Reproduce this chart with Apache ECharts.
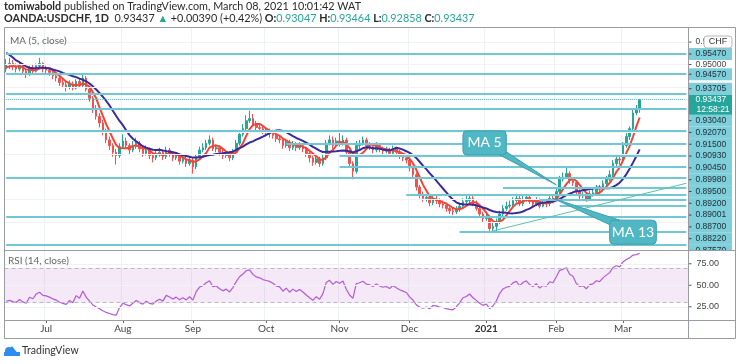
<!DOCTYPE html>
<html><head><meta charset="utf-8"><title>USDCHF 1D</title>
<script src="https://cdn.jsdelivr.net/npm/echarts@6/dist/echarts.min.js"></script>
<style>html,body{margin:0;padding:0;background:#fff;}#chart{width:740px;height:364px;}</style>
</head><body><div id="chart"></div>
<script>
// ---------------- DATA ----------------
const firstDay = [2020, 5, 15]; // 15 Jun 2020, daily bars (weekdays)
const preCloses = [0.9700,0.9690,0.9650,0.9670,0.9720,0.9700,0.9640,0.9610,0.9620,0.9640,0.9650,0.9600,0.9590,0.9580,0.9560,0.9495,0.9490,0.9475,0.9495,0.9480];
const opens = [
.9480,.9500,.9505,.9490,.9480,.9495,.9470,.9455,.9485,.9470,
.9495,.9505,.9480,.9475,.9465,.9450,.9440,.9420,.9410,.9400,
.9415,.9395,.9425,.9405,.9440,.9390,.9350,.9300,.9270,.9240,
.9200,.9165,.9140,.9110,.9095,.9135,.9160,.9140,.9120,.9135,
.9150,.9125,.9105,.9120,.9095,.9085,.9100,.9110,.9090,.9120,
.9105,.9085,.9095,.9070,.9080,.9060,.9075,.9045,.9090,.9120,
.9130,.9150,.9165,.9125,.9130,.9110,.9095,.9105,.9085,.9110,
.9150,.9190,.9215,.9250,.9260,.9235,.9220,.9215,.9205,.9200,
.9195,.9185,.9170,.9165,.9140,.9155,.9130,.9145,.9130,.9140,
.9125,.9105,.9085,.9065,.9080,.9060,.9085,.9150,.9165,.9140,
.9160,.9150,.9165,.9110,.9060,.9025,.9140,.9150,.9165,.9140,
.9135,.9120,.9140,.9125,.9115,.9120,.9105,.9125,.9110,.9095,
.9085,.9075,.9040,.9010,.8955,.8920,.8905,.8910,.8885,.8900,
.8895,.8880,.8875,.8860,.8850,.8845,.8855,.8870,.8890,.8895,
.8905,.8880,.8860,.8835,.8815,.8820,.8770,.8780,.8800,.8835,
.8860,.8870,.8875,.8895,.8905,.8880,.8900,.8910,.8890,.8880,
.8895,.8870,.8885,.8880,.8905,.8900,.8935,.8990,.9000,.9015,
.8985,.8975,.8935,.8915,.8920,.8900,.8925,.8930,.8950,.8945,
.8970,.8990,.9010,.9060,.9080,.9075,.9140,.9180,.9215,.9285,
.93047];
const highs = [
.9525,.9530,.9520,.9505,.9510,.9505,.9485,.9495,.9500,.9505,
.9530,.9510,.9495,.9485,.9475,.9465,.9450,.9435,.9425,.9430,
.9425,.9435,.9440,.9460,.9450,.9400,.9360,.9320,.9285,.9255,
.9215,.9180,.9150,.9125,.9150,.9190,.9175,.9150,.9160,.9175,
.9160,.9135,.9140,.9130,.9110,.9120,.9130,.9120,.9135,.9130,
.9115,.9110,.9105,.9100,.9090,.9090,.9085,.9100,.9135,.9150,
.9165,.9185,.9175,.9145,.9140,.9125,.9120,.9115,.9125,.9165,
.9205,.9235,.9275,.9295,.9280,.9250,.9240,.9230,.9220,.9215,
.9210,.9200,.9185,.9175,.9170,.9165,.9160,.9155,.9155,.9150,
.9135,.9115,.9095,.9095,.9090,.9100,.9165,.9185,.9180,.9175,
.9200,.9185,.9175,.9120,.9070,.9160,.9165,.9180,.9175,.9155,
.9145,.9155,.9150,.9135,.9135,.9130,.9140,.9135,.9120,.9105,
.9100,.9085,.9050,.9020,.8965,.8935,.8925,.8920,.8915,.8915,
.8905,.8895,.8885,.8875,.8865,.8870,.8885,.8905,.8915,.8925,
.8915,.8895,.8870,.8845,.8840,.8830,.8800,.8815,.8850,.8875,
.8890,.8895,.8910,.8925,.8915,.8915,.8925,.8920,.8900,.8910,
.8905,.8900,.8895,.8915,.8920,.8950,.9005,.9020,.9045,.9025,
.8995,.8985,.8945,.8935,.8930,.8940,.8950,.8965,.8965,.8985,
.9005,.9030,.9075,.9095,.9100,.9155,.9195,.9225,.9300,.9320,
.93464];
const lows = [
.9465,.9480,.9475,.9465,.9470,.9460,.9440,.9450,.9460,.9465,
.9485,.9465,.9460,.9450,.9435,.9425,.9405,.9395,.9380,.9390,
.9385,.9390,.9395,.9400,.9380,.9335,.9285,.9255,.9220,.9185,
.9150,.9120,.9090,.9055,.9085,.9125,.9125,.9100,.9110,.9125,
.9110,.9090,.9095,.9080,.9065,.9075,.9090,.9075,.9080,.9090,
.9070,.9075,.9055,.9060,.9045,.9050,.9015,.9035,.9080,.9110,
.9120,.9140,.9115,.9110,.9095,.9080,.9085,.9070,.9075,.9100,
.9140,.9180,.9205,.9240,.9225,.9200,.9195,.9190,.9180,.9175,
.9170,.9155,.9150,.9125,.9130,.9115,.9120,.9115,.9120,.9110,
.9090,.9065,.9050,.9055,.9045,.9050,.9075,.9140,.9125,.9130,
.9135,.9140,.9095,.9045,.8990,.9015,.9125,.9140,.9125,.9120,
.9105,.9110,.9110,.9100,.9105,.9090,.9095,.9095,.9080,.9070,
.9060,.9025,.8995,.8940,.8905,.8890,.8890,.8870,.8875,.8880,
.8865,.8860,.8845,.8835,.8830,.8835,.8845,.8860,.8880,.8885,
.8870,.8850,.8820,.8800,.8805,.8760,.8760,.8757,.8790,.8825,
.8850,.8860,.8865,.8885,.8870,.8870,.8890,.8880,.8865,.8870,
.8860,.8865,.8865,.8870,.8890,.8895,.8925,.8980,.8990,.8970,
.8960,.8920,.8900,.8905,.8890,.8895,.8915,.8920,.8930,.8935,
.8960,.8980,.9000,.9045,.9055,.9070,.9130,.9165,.9205,.9275,
.92858];
const closes = [
.9500,.9505,.9490,.9480,.9495,.9470,.9455,.9485,.9470,.9495,
.9505,.9480,.9475,.9465,.9450,.9440,.9420,.9410,.9400,.9415,
.9395,.9425,.9405,.9440,.9390,.9350,.9300,.9270,.9240,.9200,
.9165,.9140,.9110,.9095,.9135,.9160,.9140,.9120,.9135,.9150,
.9125,.9105,.9120,.9095,.9085,.9100,.9110,.9090,.9120,.9105,
.9085,.9095,.9070,.9080,.9060,.9075,.9045,.9090,.9120,.9130,
.9150,.9165,.9125,.9130,.9110,.9095,.9105,.9085,.9110,.9150,
.9190,.9215,.9250,.9260,.9235,.9220,.9215,.9205,.9200,.9195,
.9185,.9170,.9165,.9140,.9155,.9130,.9145,.9130,.9140,.9125,
.9105,.9085,.9065,.9080,.9060,.9085,.9150,.9165,.9140,.9160,
.9150,.9165,.9110,.9060,.9025,.9140,.9150,.9165,.9140,.9135,
.9120,.9140,.9125,.9115,.9120,.9105,.9125,.9110,.9095,.9085,
.9075,.9040,.9010,.8955,.8920,.8905,.8910,.8885,.8900,.8895,
.8880,.8875,.8860,.8850,.8845,.8855,.8870,.8890,.8895,.8905,
.8880,.8860,.8835,.8815,.8820,.8770,.8780,.8800,.8835,.8860,
.8870,.8875,.8895,.8905,.8880,.8900,.8910,.8890,.8880,.8895,
.8870,.8885,.8880,.8905,.8900,.8935,.8990,.9000,.9015,.8985,
.8975,.8935,.8915,.8920,.8900,.8925,.8930,.8950,.8945,.8970,
.8990,.9010,.9060,.9080,.9075,.9140,.9180,.9215,.9285,.9300,
.93437];
const lastPrice = 0.93437;
const levelPrices = [0.95470,0.94570,0.93705,0.93040,0.92070,0.91500,0.90930,0.90450,0.89980,0.89500,0.89200,0.89001,0.88700,0.88220,0.87570,0.87000];
const levelStart  = [0,0,0,0,0,84,100,100,0,149,120,160,166,0,136,0];
const trendLine = [[146, 0.8760],[204, 0.8972]];
const priceGridTicks = [0.870,0.875,0.880,0.885,0.890,0.895,0.900,0.905,0.910,0.915,0.920,0.925,0.930,0.935,0.940,0.945,0.950,0.955,0.960,0.965];
const priceAxisTicks = [0.96000, 0.95000];
const rsiTicks = [25, 50, 75];
const rsiBand = [30, 70];
const monthNames = ['Jan','Feb','Mar','Apr','May','Jun','Jul','Aug','Sep','Oct','Nov','Dec'];
const PAD = 14;
const callouts = [
  {text:'MA 5',  a:[137,0.9205], b:[150,0.9098], tip:[165,0.8965], p1:[148,0.9098], p2:[150,0.9112]},
  {text:'MA 13', a:[181,0.8808], b:[195,0.8701], tip:[164,0.8905], p1:[181,0.8788], p2:[184,0.8808]}
];

// ---------------- BUILD ----------------
const dates = [];
let dt = new Date(Date.UTC(firstDay[0], firstDay[1], firstDay[2]));
while (dates.length < closes.length) {
  const wd = dt.getUTCDay();
  if (wd !== 0 && wd !== 6) dates.push(new Date(dt.getTime()));
  dt = new Date(dt.getTime() + 86400000);
}
const cats = dates.map(d => d.toISOString().slice(0,10));
for (let i = 0; i < PAD; i++) cats.push('pad' + i);
const monthIdx = new Set();
const monthLabel = {};
for (let i = 1; i < dates.length; i++) {
  if (dates[i].getUTCMonth() !== dates[i-1].getUTCMonth()) {
    monthIdx.add(i);
    const m = dates[i].getUTCMonth();
    monthLabel[i] = m === 0 ? '{y|' + dates[i].getUTCFullYear() + '}' : monthNames[m];
  }
}
const allCloses = preCloses.concat(closes);
function sma(arr, n) {
  return arr.map((v, i) => {
    if (i < n - 1) return null;
    let s = 0; for (let k = i - n + 1; k <= i; k++) s += arr[k];
    return +(s / n).toFixed(5);
  });
}
function rsi(arr, n) {
  let g = 0, l = 0; const out = [null];
  for (let i = 1; i < arr.length; i++) {
    const ch = arr[i] - arr[i-1], up = Math.max(ch, 0), dn = Math.max(-ch, 0);
    if (i <= n) { g += up / n; l += dn / n; out.push(i === n ? 100 - 100 / (1 + g / l) : null); }
    else { g = (g * (n - 1) + up) / n; l = (l * (n - 1) + dn) / n; out.push(l === 0 ? 100 : +(100 - 100 / (1 + g / l)).toFixed(2)); }
  }
  return out;
}
const off = preCloses.length;
const ma5 = sma(allCloses, 5).slice(off);
const ma13 = sma(allCloses, 13).slice(off);
const rsi14 = rsi(allCloses, 14).slice(off);
const candle = closes.map((c, i) => [opens[i], c, lows[i], highs[i]]);
const padNull = arr => arr.concat(new Array(PAD).fill('-'));

const FONT = 'Lato, "Liberation Sans", sans-serif';
const AXFONT = '"Liberation Sans", Arial, sans-serif';
const G = {left: 4.5, width: 683.5};
const yMax = 0.96627, yMin = 0.86752;
const rMin = 9.65, rMax = 91.0;
const LINE_C = '#72c7d4';

function xAxisCfg(gi, show) {
  return {
    type: 'category', gridIndex: gi, data: cats, boundaryGap: true,
    axisLine: {show: false},
    axisTick: {show: show, length: 3, alignWithLabel: true, interval: i => monthIdx.has(i), lineStyle: {color: '#666'}},
    axisLabel: {show: show, interval: i => monthIdx.has(i), formatter: (v, i) => monthLabel[i] || '',
      margin: 4, fontSize: 10, color: '#444', fontFamily: FONT, rich: {y: {fontWeight: 'bold', fontSize: 10, color: '#333', fontFamily: FONT}}},
    splitLine: {show: true, interval: i => monthIdx.has(i), lineStyle: {color: '#eef1f5', width: 1}}
  };
}

const levelLines = levelPrices.map((p, k) => [
  {coord: [cats[levelStart[k]], p]},
  {coord: [cats[cats.length - 1], p]}
]);

const chart = echarts.init(document.getElementById('chart'), null, {renderer: 'canvas'});
chart.setOption({
  animation: false,
  backgroundColor: '#ffffff',
  grid: [
    {left: G.left, top: 28, width: G.width, height: 222},
    {left: G.left, top: 250, width: G.width, height: 70}
  ],
  xAxis: [xAxisCfg(0, false), xAxisCfg(1, true)],
  yAxis: [
    {type: 'value', gridIndex: 0, position: 'right', min: yMin, max: yMax, show: false, scale: true},
    {type: 'value', gridIndex: 1, position: 'right', min: rMin, max: rMax, show: false}
  ],
  series: [
    {name: 'grid', type: 'line', xAxisIndex: 0, yAxisIndex: 0, data: cats.map(() => '-'), silent: true, z: 1,
      markLine: {silent: true, symbol: ['none','none'], label: {show: false}, animation: false,
        lineStyle: {color: '#f0f2f6', width: 1, type: 'solid'},
        data: priceGridTicks.map(p => ({yAxis: p}))}},
    {name: 'levels', type: 'line', xAxisIndex: 0, yAxisIndex: 0, data: cats.map(() => '-'), silent: true, z: 2,
      markLine: {silent: true, symbol: ['none','none'], label: {show: false}, animation: false,
        lineStyle: {color: LINE_C, width: 1.8, type: 'solid'},
        data: levelLines.concat([
          [{coord: [cats[0], lastPrice], lineStyle: {color: '#4dbcc0', width: 1, type: 'dotted'}}, {coord: [cats[cats.length-1], lastPrice]}],
          [{coord: [cats[trendLine[0][0]], trendLine[0][1]], lineStyle: {color: '#5cc0a8', width: 1, type: 'solid'}}, {coord: [cats[trendLine[1][0]], trendLine[1][1]]}]
        ])}},
    {name: 'USDCHF', type: 'candlestick', xAxisIndex: 0, yAxisIndex: 0, data: padNull(candle), barWidth: '62%', z: 3,
      itemStyle: {color: '#26a69a', color0: '#ef5350', borderColor: '#26a69a', borderColor0: '#ef5350', borderWidth: 1}},
    {name: 'MA5', type: 'line', xAxisIndex: 0, yAxisIndex: 0, data: padNull(ma5), showSymbol: false, symbol: 'none', z: 4,
      lineStyle: {color: '#f04638', width: 2}},
    {name: 'MA13', type: 'line', xAxisIndex: 0, yAxisIndex: 0, data: padNull(ma13), showSymbol: false, symbol: 'none', z: 4,
      lineStyle: {color: '#3a2a9c', width: 2}},
    {name: 'RSI', type: 'line', xAxisIndex: 1, yAxisIndex: 1, data: padNull(rsi14), showSymbol: false, symbol: 'none', z: 4,
      lineStyle: {color: '#b35ad6', width: 1.2},
      markArea: {silent: true, itemStyle: {color: 'rgba(155,39,176,0.10)'}, data: [[{yAxis: rsiBand[1]}, {yAxis: rsiBand[0]}]]},
      markLine: {silent: true, symbol: ['none','none'], label: {show: false},
        lineStyle: {color: '#b8b8c4', width: 1, type: [4, 3]},
        data: rsiBand.map(v => ({yAxis: v}))}},
    {name: 'rsigrid', type: 'line', xAxisIndex: 1, yAxisIndex: 1, data: cats.map(() => '-'), silent: true, z: 1,
      markLine: {silent: true, symbol: ['none','none'], label: {show: false},
        lineStyle: {color: '#eef1f5', width: 1, type: 'solid'},
        data: rsiTicks.map(v => ({yAxis: v}))}}
  ]
});

// ---------------- OVERLAYS (computed from the axes) ----------------
const yPix = p => chart.convertToPixel({yAxisIndex: 0}, p);
const rPix = v => chart.convertToPixel({yAxisIndex: 1}, v);
const pt = a => chart.convertToPixel({gridIndex: 0}, [cats[a[0]], a[1]]);
const AX = 688.5, RIGHT = 735.5, BOX_R = 732;
const g = [];
const txt = (x, y, text, o) => g.push({type: 'text', x: x, y: y, z: (o && o.z) || 50,
  style: Object.assign({text: text, fill: '#333', fontSize: 10, fontFamily: FONT, verticalAlign: 'middle'}, (o && o.style) || {})});

// header
txt(4, 7, '{b|tomiwabold} published on TradingView.com, March 08, 2021 10:01:42 WAT',
  {style: {fill: '#2a2a2a', fontSize: 10.8, rich: {b: {fontWeight: 'bold', fontSize: 10.8, fontFamily: FONT, fill: '#2a2a2a'}}}});
txt(4, 19, '{b|OANDA:USDCHF, 1D}  0.93437 {g|\u25B2} +0.00390 (+0.42%) {b|O:}{g|0.93047} {b|H:}{g|0.93464} {b|L:}{g|0.92858} {b|C:}{g|0.93437}',
  {style: {fill: '#2a2a2a', fontSize: 10.8, rich: {
    b: {fontWeight: 'bold', fontSize: 10.8, fontFamily: FONT, fill: '#2a2a2a'},
    g: {fontSize: 10.8, fontFamily: FONT, fill: '#26a69a'}}}});
// legends
txt(10, 41, 'MA (5, close)', {style: {fill: '#666', fontSize: 10}});
txt(8, 261, 'RSI (14, close)', {style: {fill: '#666', fontSize: 10}});

// price axis plain tick labels
priceAxisTicks.forEach(p => {
  const y = yPix(p);
  g.push({type: 'line', z: 40, shape: {x1: AX, y1: y, x2: AX + 3, y2: y}, style: {stroke: '#555', lineWidth: 1}});
  txt(AX + 7, y, p.toFixed(5), {z: 40, style: {fill: '#444', fontSize: 8.5, fontFamily: AXFONT}});
});

// level labels with overlap avoidance
const curY = yPix(lastPrice);
const boxTop = curY - 5, boxBot = curY + 15;
const placed = [];
let lim = boxTop;
levelPrices.filter(p => p > lastPrice).sort((a, b) => a - b).forEach(p => {
  const c = Math.min(yPix(p), lim - 6); placed.push([p, c]); lim = c - 6;
});
lim = boxBot;
levelPrices.filter(p => p < lastPrice).sort((a, b) => b - a).forEach(p => {
  const c = Math.max(yPix(p), lim + 5.9); placed.push([p, c]); lim = c + 5.9;
});
placed.forEach(([p, c]) => {
  if (c - 6 >= 250) return;
  const top = c - 6, bot = Math.min(c + 6, 250);
  g.push({type: 'rect', z: 41, shape: {x: AX + 0.5, y: top, width: BOX_R - AX - 0.5, height: bot - top}, style: {fill: '#7fcfdb'}});
  g.push({type: 'line', z: 42, shape: {x1: AX, y1: c, x2: AX + 3, y2: c}, style: {stroke: '#444', lineWidth: 1}});
  txt(AX + 7, c, p.toFixed(5), {z: 42, style: {fill: '#1d2b33', fontSize: 8.5, fontFamily: AXFONT}});
});
// current price box
g.push({type: 'rect', z: 43, shape: {x: AX + 0.5, y: boxTop, width: BOX_R - AX - 0.5, height: boxBot - boxTop}, style: {fill: '#26a69a'}});
txt(AX + 7, curY, lastPrice.toFixed(5), {z: 44, style: {fill: '#ffffff', fontSize: 8.5, fontFamily: AXFONT}});
txt(AX + 8, curY + 10, '12:58:21', {z: 44, style: {fill: '#ffffff', fontSize: 8.5, fontFamily: AXFONT}});
// CHF button
g.push({type: 'rect', z: 45, shape: {x: 704, y: 36, width: 28, height: 12, r: 3}, style: {fill: '#fff', stroke: '#b8b8b8', lineWidth: 1}});
txt(718, 42, 'CHF', {z: 46, style: {fill: '#333', fontSize: 9, align: 'center', fontFamily: AXFONT}});

// cover below main panel in price axis
g.push({type: 'rect', z: 47, shape: {x: AX + 0.5, y: 250.5, width: RIGHT - AX - 1, height: 10}, style: {fill: '#fff'}});

// RSI axis labels
rsiTicks.forEach(v => {
  const y = rPix(v);
  g.push({type: 'line', z: 48, shape: {x1: AX, y1: y, x2: AX + 3, y2: y}, style: {stroke: '#555', lineWidth: 1}});
  txt(AX + 8, y, v.toFixed(2), {z: 48, style: {fill: '#444', fontSize: 9, fontFamily: AXFONT}});
});

// frame
const fr = {stroke: '#9a9ca3', lineWidth: 1};
g.push({type: 'rect', z: 49, shape: {x: 4.5, y: 27.5, width: RIGHT - 4.5, height: 311}, style: Object.assign({fill: 'none'}, fr)});
g.push({type: 'line', z: 49, shape: {x1: 4.5, y1: 250.5, x2: RIGHT, y2: 250.5}, style: fr});
g.push({type: 'line', z: 49, shape: {x1: 4.5, y1: 320.5, x2: RIGHT, y2: 320.5}, style: fr});
g.push({type: 'line', z: 49, shape: {x1: AX, y1: 27.5, x2: AX, y2: 338.5}, style: fr});

// callouts
callouts.forEach(co => {
  const a = pt(co.a), b = pt(co.b), t = pt(co.tip), p1 = pt(co.p1), p2 = pt(co.p2);
  g.push({type: 'polygon', z: 30, shape: {points: [p1, p2, t]}, style: {fill: '#50b8c4', stroke: '#3f9fab', lineWidth: 1}});
  g.push({type: 'rect', z: 31, shape: {x: a[0], y: a[1], width: b[0] - a[0], height: b[1] - a[1], r: 4}, style: {fill: '#50b8c4', stroke: '#3f9fab', lineWidth: 1}});
  txt((a[0] + b[0]) / 2, (a[1] + b[1]) / 2, co.text, {z: 32, style: {fill: '#ffffff', fontSize: 14, align: 'center'}});
});

// TradingView logo
g.push({type: 'circle', z: 50, shape: {cx: 9, cy: 351, r: 4}, style: {fill: '#2f8cf0'}});
g.push({type: 'polygon', z: 50, shape: {points: [[5, 355], [12, 346], [19, 355]]}, style: {fill: '#2f8cf0'}});
g.push({type: 'rect', z: 50, shape: {x: 4, y: 352, width: 16, height: 4}, style: {fill: '#2f8cf0'}});
txt(22, 351, 'TradingView', {style: {fill: '#333', fontSize: 10.5}});

chart.setOption({graphic: {elements: g}});
</script></body></html>
